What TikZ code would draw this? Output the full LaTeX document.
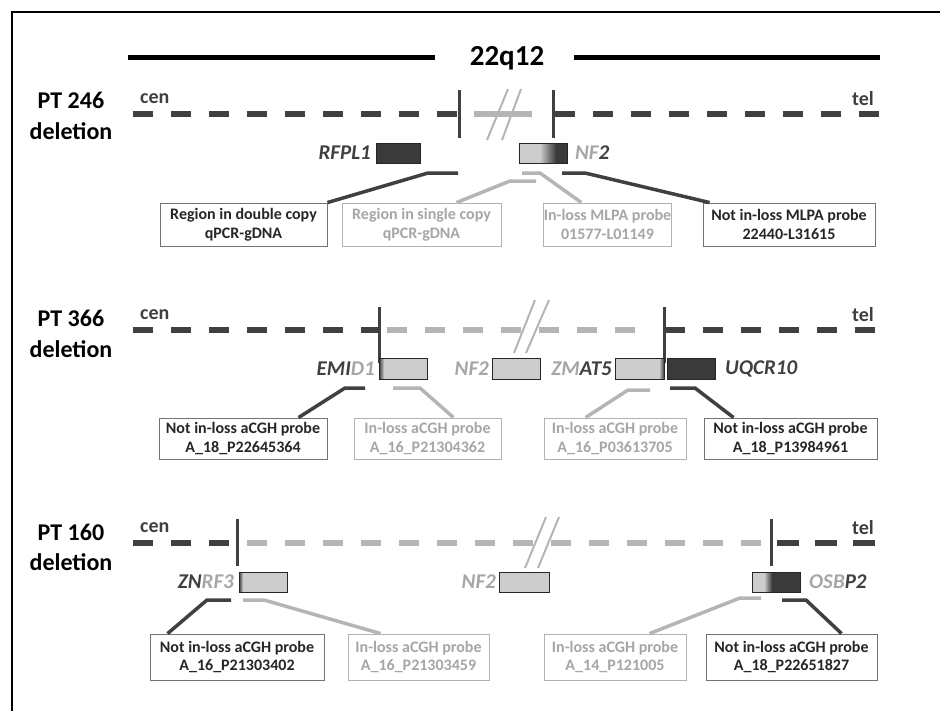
\documentclass[tikz,border=0pt]{standalone}
\usepackage{fontspec}
\setmainfont{Carlito}
\usetikzlibrary{calc}
\definecolor{dk}{HTML}{404040}
\definecolor{lt}{HTML}{B5B5B5}
\definecolor{lttext}{HTML}{A6A6A6}
\definecolor{boxlt}{HTML}{CDCDCD}
\definecolor{boxdk}{HTML}{3A3A3A}
\definecolor{txtdk}{HTML}{262626}
\begin{document}
\begin{tikzpicture}[x=1pt,y=-1pt,
  dkdash/.style={draw=dk,line width=5.5pt,dash pattern=on 20pt off 18pt},
  ltdash/.style={draw=lt,line width=5.5pt,dash pattern=on 20pt off 18pt},
  ltsolid/.style={draw=lt,line width=5.5pt},
  bpline/.style={draw=dk,line width=3pt},
  brkmark/.style={draw=lt,line width=2pt},
  conD/.style={draw=dk,line width=3.5pt},
  conL/.style={draw=lt,line width=3.5pt},
  gbox/.style={draw=black!85,line width=1pt,inner sep=0pt,minimum width=48pt,minimum height=21pt},
  glabel/.style={font=\bfseries\itshape\fontsize{21}{24}\selectfont,inner sep=0pt},
  ptlabel/.style={font=\bfseries\fontsize{24}{31}\selectfont,align=center,inner sep=0pt,text=black},
  endlabel/.style={font=\bfseries\fontsize{20}{22}\selectfont,text=dk,inner sep=0pt},
  tboxD/.style={draw=black!55,line width=0.9pt,fill=white,align=center,inner sep=0pt,
     font=\bfseries\fontsize{16}{18.5}\selectfont,text=txtdk},
  tboxL/.style={draw=black!30,line width=0.9pt,fill=white,align=center,inner sep=0pt,
     font=\bfseries\fontsize{16}{18.5}\selectfont,text=lttext}]
\useasboundingbox (0,0) rectangle (940,710);
% frame
\draw[line width=2pt] (12,712) -- (12,12) -- (942,12);
% title
\node[font=\bfseries\fontsize{29}{32}\selectfont,inner sep=0pt] (title) at (507,58) {22q12};
\coordinate (tl1) at (128,57); \coordinate (tl2) at (435,57);
\coordinate (tr1) at (574,57); \coordinate (tr2) at (880,57);
\draw[line width=5pt] (tl1) -- (tl2);
\draw[line width=5pt] (tr1) -- (tr2);

%% ================= ROW 1 =================
\node[ptlabel] (pt1) at (71,100) {PT 246};
\node[ptlabel] (del1) at (71,131) {deletion};
\node[endlabel,anchor=west] (cen1) at (140,99) {cen};
\node[endlabel,anchor=east] (tel1) at (874,99) {tel};
\draw[dkdash] (133,114) -- (457,114);
\draw[ltsolid] (474,114) -- (532,114);
\draw[dkdash] (555,114) -- (880,114);
\draw[bpline] (459,90) -- (459,138);
\draw[bpline] (553,90) -- (553,138);
\draw[brkmark] (487,140) -- (508,89);
\draw[brkmark] (502,140) -- (521,89);
% genes
\node[gbox,fill=boxdk,minimum width=44pt,minimum height=20pt] (g11) at (398,153) {};
\node[glabel,text=dk,anchor=east] (l11) at (371,153) {RFPL1};
\fill[boxlt] (519,143) rectangle (540,163);
\shade[left color=boxlt,right color=boxdk] (540,143) rectangle (556,163);
\fill[boxdk] (556,143) rectangle (567,163);
\node[gbox,minimum height=20pt] (g12) at (543,153) {};
\node[glabel,anchor=west] (l12) at (575,153) {\color{lttext}NF\color{dk}2};
% text boxes
\node[tboxD,minimum width=167pt,minimum height=43pt] (b11) at (243.5,224.5) {Region in double copy\\qPCR-gDNA};
\node[tboxL,minimum width=159pt,minimum height=43pt] (b12) at (421.5,224.5) {Region in single copy\\qPCR-gDNA};
\node[tboxL,minimum width=127pt,minimum height=43pt] (b13) at (607.5,224.5) {In-loss MLPA probe\\01577-L01149};
\node[tboxD,minimum width=172pt,minimum height=43pt] (b14) at (789,224.5) {Not in-loss MLPA probe\\22440-L31615};
% connectors
\coordinate (s11) at (458,173);
\coordinate (s12) at (536,181);
\coordinate (s13) at (522,173);
\coordinate (s14) at (562,173);
\draw[conD] (s11) -- ++(-30,0) -- (b11.north east);
\draw[conL] (s12) -- ++(-26,0) -- ($(b12.north west)+(115,0)$);
\draw[conL] (s13) -- ++(18,0) -- ($(b13.north west)+(38,0)$);
\draw[conD] (s14) -- ++(23,0) -- ($(b14.north west)+(7,0)$);

%% ================= ROW 2 =================
\node[ptlabel] (pt2) at (71,318) {PT 366};
\node[ptlabel] (del2) at (71,349) {deletion};
\node[endlabel,anchor=west] (cen2) at (140,315) {cen};
\node[endlabel,anchor=east] (tel2) at (874,315) {tel};
\draw[dkdash] (133,330) -- (379,330);
\draw[ltdash] (387,330) -- (636,330);
\draw[dkdash] (665,330) -- (876,330);
\draw[bpline] (379,307) -- (379,363);
\draw[bpline] (664,307) -- (664,363);
\draw[brkmark] (514,353) -- (535,300);
\draw[brkmark] (526,353) -- (549,300);
% genes
\fill[boxlt] (379,358) rectangle (427,379);
\shade[left color=boxdk,right color=boxlt] (379,358) rectangle (384,379);
\node[gbox] (g21) at (403,368.5) {};
\node[glabel,anchor=east] (l21) at (375,368.5) {\color{dk}EMI\color{lttext}D1};
\node[gbox,fill=boxlt] (g22) at (516,368.5) {};
\node[glabel,anchor=east,text=lttext] (l22) at (489,368.5) {NF2};
\fill[boxlt] (615,358) rectangle (664,379);
\shade[left color=boxlt,right color=boxdk] (659,358) rectangle (664,379);
\node[gbox,minimum width=49pt] (g23) at (639.5,368.5) {};
\node[glabel,anchor=east] (l23) at (612,368.5) {\color{lttext}ZM\color{dk}AT5};
\node[gbox,fill=boxdk] (g24) at (691,368.5) {};
\node[glabel,anchor=west,text=dk] (l24) at (725,368.5) {UQCR10};
% text boxes
\node[tboxD,minimum width=168pt,minimum height=41pt] (b21) at (243,438.5) {Not in-loss aCGH probe\\A\_18\_P22645364};
\node[tboxL,minimum width=147pt,minimum height=41pt] (b22) at (427.5,438.5) {In-loss aCGH probe\\A\_16\_P21304362};
\node[tboxL,minimum width=142pt,minimum height=41pt] (b23) at (615,438.5) {In-loss aCGH probe\\A\_16\_P03613705};
\node[tboxD,minimum width=173pt,minimum height=41pt] (b24) at (790.5,438.5) {Not in-loss aCGH probe\\A\_18\_P13984961};
% connectors
\coordinate (s21) at (365,388);
\coordinate (s22) at (393,388);
\coordinate (s23) at (650,390);
\coordinate (s24) at (670,388);
\draw[conD] (s21) -- ++(-20,0) -- ($(b21.north west)+(140,0)$);
\draw[conL] (s22) -- ++(27,0) -- ($(b22.north west)+(100,0)$);
\draw[conL] (s23) -- ++(-22,0) -- ($(b23.north west)+(42,0)$);
\draw[conD] (s24) -- ++(25,0) -- ($(b24.north west)+(30,0)$);

%% ================= ROW 3 =================
\node[ptlabel] (pt3) at (71,532) {PT 160};
\node[ptlabel] (del3) at (71,562) {deletion};
\node[endlabel,anchor=west] (cen3) at (140,528) {cen};
\node[endlabel,anchor=east] (tel3) at (874,528) {tel};
\draw[dkdash] (133,543) -- (237,543);
\draw[ltdash] (247,543) -- (762,543);
\draw[dkdash,dash pattern=on 22pt off 16pt] (777,543) -- (876,543);
\draw[bpline] (237,519) -- (237,566);
\draw[bpline] (771,519) -- (771,566);
\draw[brkmark] (525,568) -- (546,517);
\draw[brkmark] (538,568) -- (559,517);
% genes
\fill[boxlt] (239,572) rectangle (287,592);
\shade[left color=boxdk,right color=boxlt] (239,572) rectangle (243,592);
\node[gbox,minimum height=20pt] (g31) at (263,582) {};
\node[glabel,anchor=east] (l31) at (234,582) {\color{dk}ZN\color{lttext}RF3};
\node[gbox,fill=boxlt,minimum width=50pt,minimum height=20pt] (g32) at (524,582) {};
\node[glabel,anchor=east,text=lttext] (l32) at (496,582) {NF2};
\fill[boxlt] (752,572) rectangle (764,592);
\shade[left color=boxlt,right color=boxdk] (764,572) rectangle (772,592);
\fill[boxdk] (772,572) rectangle (800,592);
\node[gbox,minimum height=20pt] (g33) at (776,582) {};
\node[glabel,anchor=west] (l33) at (809,582) {\color{lttext}OSB\color{dk}P2};
% text boxes
\node[tboxD,minimum width=174pt,minimum height=46pt] (b31) at (237,657) {Not in-loss aCGH probe\\A\_16\_P21303402};
\node[tboxL,minimum width=141pt,minimum height=46pt] (b32) at (418.5,657) {In-loss aCGH probe\\A\_16\_P21303459};
\node[tboxL,minimum width=142pt,minimum height=46pt] (b33) at (615,657) {In-loss aCGH probe\\A\_14\_P121005};
\node[tboxD,minimum width=171pt,minimum height=46pt] (b34) at (791.5,657) {Not in-loss aCGH probe\\A\_18\_P22651827};
% connectors
\coordinate (s31) at (231,600);
\coordinate (s32) at (243,600);
\coordinate (s33) at (761,598);
\coordinate (s34) at (782,600);
\draw[conD] (s31) -- ++(-24,0) -- ($(b31.north west)+(18,0)$);
\draw[conL] (s32) -- ++(21,0) -- ($(b32.north west)+(33,0)$);
\draw[conL] (s33) -- ++(-21,0) -- ($(b33.north west)+(106,0)$);
\draw[conD] (s34) -- ++(24,0) -- ($(b34.north west)+(136,0)$);
\end{tikzpicture}
\end{document}
